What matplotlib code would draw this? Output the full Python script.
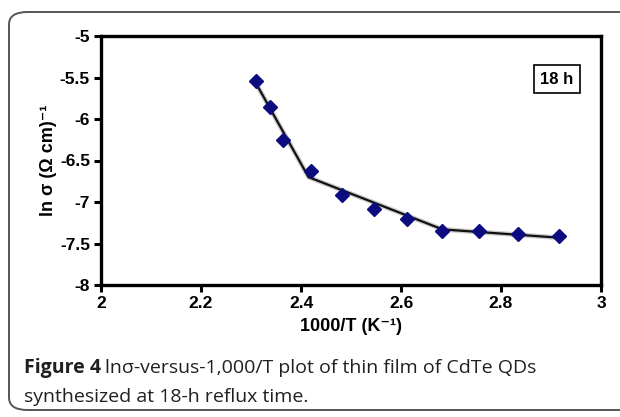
import matplotlib.pyplot as plt
from matplotlib.patches import FancyBboxPatch

# measured points, 1000/T vs ln sigma
inv_t = [2.310, 2.338, 2.364, 2.421, 2.482, 2.545, 2.611, 2.682, 2.756, 2.833, 2.916]
ln_sigma = [-5.54, -5.86, -6.25, -6.63, -6.91, -7.08, -7.21, -7.35, -7.35, -7.38, -7.41]

# piecewise linear fit drawn through the data
fit_x = [2.310, 2.415, 2.683, 2.916]
fit_y = [-5.57, -6.70, -7.33, -7.43]

x_ticks = [2, 2.2, 2.4, 2.6, 2.8, 3]
y_ticks = [-5, -5.5, -6, -6.5, -7, -7.5, -8]

plt.rcParams['font.family'] = ['Liberation Sans', 'DejaVu Sans']

fig = plt.figure(figsize=(6.2, 4.17), dpi=100)

# rounded frame around the figure (right side runs off the image)
frame = FancyBboxPatch((9 / 620, 7 / 417), 640 / 620, 398 / 417,
                       boxstyle='round,pad=0,rounding_size=0.03',
                       transform=fig.transFigure, fill=False,
                       edgecolor='#555555', linewidth=1.4)
fig.patches.append(frame)

ax = fig.add_axes([101 / 620, 1 - 285 / 417, 500 / 620, 249 / 417])

# soft shadow under the fit line
ax.plot(fit_x, fit_y, color='#999999', linewidth=3.5, alpha=0.5, zorder=2)
ax.plot(fit_x, fit_y, color='#111111', linewidth=1.6, zorder=3)
ax.plot(inv_t, ln_sigma, linestyle='none', marker='D', markersize=7.5,
        color='#0c0c80', zorder=4)

ax.set_xlim(2, 3)
ax.set_ylim(-8, -5)
ax.set_xticks(x_ticks)
ax.set_xticklabels([f'{v:g}' for v in x_ticks])
ax.set_yticks(y_ticks)
ax.set_yticklabels([f'{v:g}' for v in y_ticks])

for s in ax.spines.values():
    s.set_linewidth(2.4)
ax.tick_params(direction='out', length=5, width=2.2, labelsize=12.5, pad=3)
for lab in ax.get_xticklabels() + ax.get_yticklabels():
    lab.set_fontweight('bold')

ax.set_xlabel('1000/T (K\u207b\u00b9)', fontsize=13, fontweight='bold', labelpad=5)
ax.set_ylabel('ln \u03c3 (\u03a9 cm)\u207b\u00b9', fontsize=13, fontweight='bold', labelpad=2)

ax.text(0.912, 0.827, '18 h', transform=ax.transAxes, fontsize=12,
        fontweight='bold', ha='center', va='center',
        bbox=dict(boxstyle='square,pad=0.4', facecolor='white',
                  edgecolor='black', linewidth=1.2))

# caption, bold lead-in followed by regular text
cap_font = ['Open Sans', 'DejaVu Sans']
cap_size = 14
cap_color = '#231f20'
lead = fig.text(24 / 620, 1 - 373 / 417, 'Figure 4', fontsize=cap_size, fontweight='bold',
                family=cap_font, color=cap_color, va='baseline')
fig.canvas.draw()
bb = lead.get_window_extent().transformed(fig.transFigure.inverted())
fig.text(bb.x1 + 4 / 620, 1 - 373 / 417, 'ln\u03c3-versus-1,000/T plot of thin film of CdTe QDs',
         fontsize=cap_size, family=cap_font, color=cap_color, va='baseline')
fig.text(24 / 620, 1 - 402 / 417, 'synthesized at 18-h reflux time.',
         fontsize=cap_size, family=cap_font, color=cap_color, va='baseline')

fig.savefig('out.png', dpi=100)
